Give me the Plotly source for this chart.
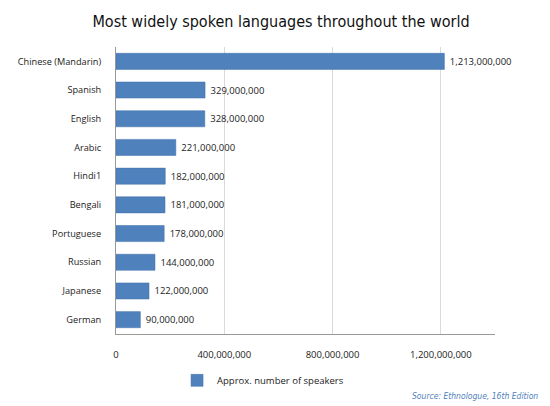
import plotly.graph_objects as go

languages = ['Chinese (Mandarin)', 'Spanish', 'English', 'Arabic', 'Hindi1',
             'Bengali', 'Portuguese', 'Russian', 'Japanese', 'German']
speakers = [1213000000, 329000000, 328000000, 221000000, 182000000,
            181000000, 178000000, 144000000, 122000000, 90000000]
tick_vals = [0, 400000000, 800000000, 1200000000]
tick_text = ['0', '400,000,000', '800,000,000', '1,200,000,000']

blue = '#4F81BD'
body_font = 'Open Sans, Noto Sans, sans-serif'
narrow_font = 'Liberation Sans Narrow, Arial Narrow, DejaVu Sans Condensed, sans-serif'

fig = go.Figure()
fig.add_trace(go.Bar(
    y=languages, x=speakers, orientation='h',
    name='Approx. number of speakers',
    marker=dict(color=blue, line=dict(color='#3f6fa8', width=0.5)),
    text=[' ' + f'{v:,}' for v in speakers], textposition='outside',
    textfont=dict(size=9.5, color='#222', family=body_font),
    cliponaxis=False,
))

fig.update_layout(
    width=550, height=406,
    margin=dict(l=116, r=55, t=47, b=72, autoexpand=False),
    paper_bgcolor='white', plot_bgcolor='white',
    title=dict(text='Most widely spoken languages throughout the world',
               x=281 / 550, xanchor='center', y=1 - 21.5 / 406, yanchor='middle',
               font=dict(family=narrow_font, size=16, color='#111')),
    bargap=0.44,
    showlegend=True,
    legend=dict(orientation='h', x=0.388, xanchor='center', y=-0.111, yanchor='top',
                font=dict(family=body_font, size=9.5, color='#222')),
    xaxis=dict(range=[0, 1400000000], tickvals=tick_vals, ticktext=tick_text,
               showgrid=True, gridcolor='#d9d9d9', gridwidth=1,
               showline=True, linecolor='#999', linewidth=1,
               zeroline=False, ticks='', ticklabelstandoff=12,
               tickfont=dict(family=body_font, size=9.5, color='#222')),
    yaxis=dict(autorange='reversed', showline=True, linecolor='#999', linewidth=1,
               ticks='', ticklabelstandoff=12,
               tickfont=dict(family=body_font, size=9.2, color='#222')),
    font=dict(family=body_font),
)

fig.add_annotation(text='<i>Source: Ethnologue, 16th Edition</i>', xref='paper', yref='paper',
                   x=1.119, xanchor='right', y=-0.215, yanchor='middle', showarrow=False,
                   font=dict(family=narrow_font, size=8.5, color=blue))

# the page body has an 8px default margin; drop it so the figure fills the window
fig.write_html('out.html', config={'displayModeBar': False},
               post_script="document.body.style.margin='0';")
